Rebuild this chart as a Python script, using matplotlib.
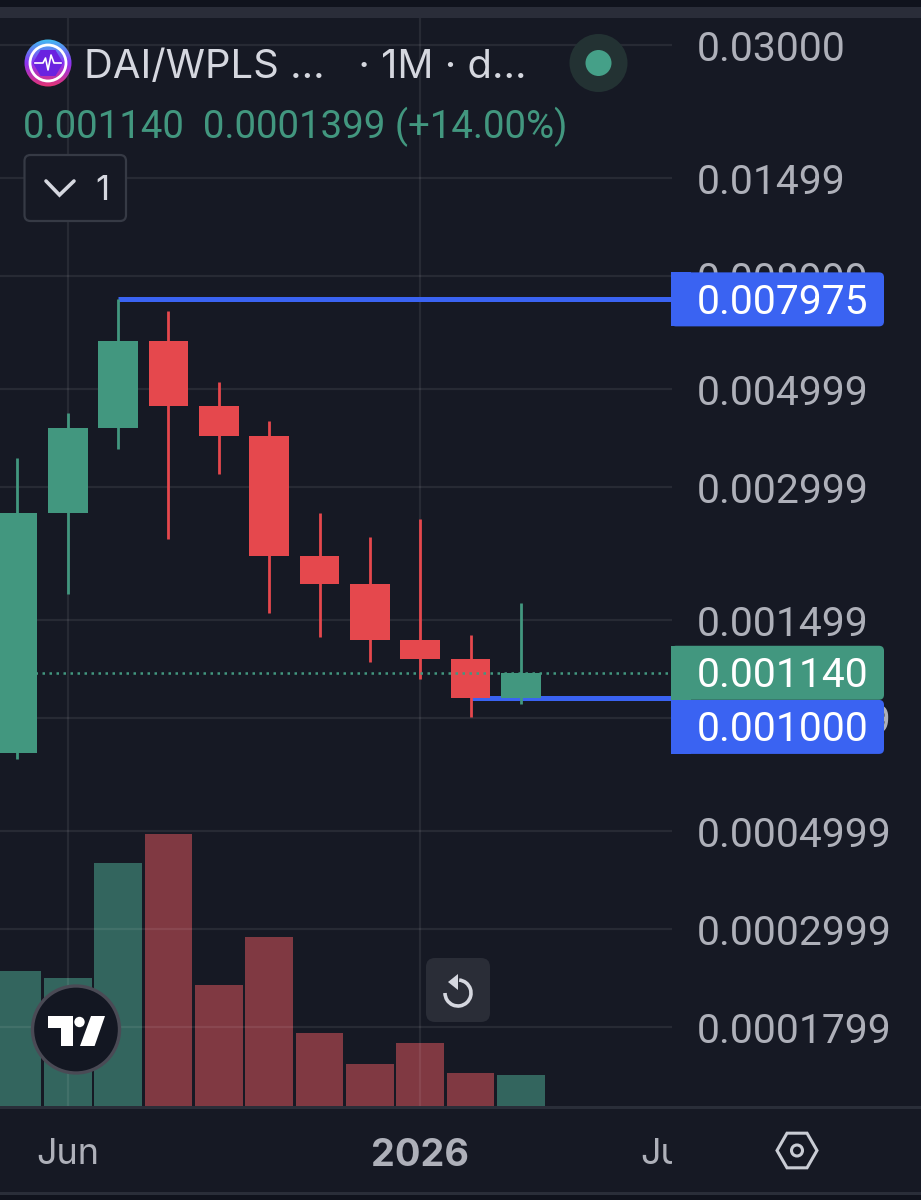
import numpy as np
import matplotlib
matplotlib.use("Agg")
import matplotlib.pyplot as plt
from matplotlib.patches import Rectangle, FancyBboxPatch, Circle, Polygon, Arc, RegularPolygon

# ---- data -----
months = [-8, -7, -6, -5, -4, -3, -2, -1, 0, 1, 2]   # months relative to Jan 2026
opens  = [0.00075, 0.00262, 0.00408, 0.00642, 0.004575, 0.003913, 0.002094, 0.00181, 0.001352, 0.001225, 0.0010001]
closes = [0.00262, 0.00408, 0.00642, 0.004575, 0.003913, 0.002094, 0.00181, 0.001352, 0.001225, 0.0010001, 0.00114]
highs  = [0.003489, 0.004413, 0.007975, 0.007503, 0.005183, 0.004233, 0.00262, 0.002312, 0.00254, 0.001388, 0.001639]
lows   = [0.000728, 0.001718, 0.003658, 0.002288, 0.003211, 0.001556, 0.001373, 0.001206, 0.001103, 0.000905, 0.000968]
volumes = [135, 128, 243, 272, 121, 169, 73, 42, 63, 33, 31]
price_ticks = [0.03, 0.01499, 0.008999, 0.004999, 0.002999, 0.001499, 0.0008999, 0.0004999, 0.0002999, 0.0001799]
price_tick_labels = ["0.03000", "0.01499", "0.008999", "0.004999", "0.002999", "0.001499",
                     "0.0008999", "0.0004999", "0.0002999", "0.0001799"]
time_ticks = [-7, 0, 5]
time_labels = ["Jun", "2026", "Jun"]
last_price = 0.00114
level_high = 0.007975
level_low = 0.001000

BG = "#161924"
GREEN = "#42977f"
RED = "#e5484d"
VGREEN = "#33655e"
VRED = "#803942"
BLUE = "#3a63f2"
LABEL = "#aeb0b9"
plt.rcParams["font.family"] = ["Inter", "DejaVu Sans"]
NUM = "Roboto"

W, H = 921, 1200
fig = plt.figure(figsize=(W / 100, H / 100), dpi=100, facecolor=BG)

top_px, bot_px, right_px = 18, 1107, 672
ax = fig.add_axes([0, 1 - bot_px / H, right_px / W, (bot_px - top_px) / H])
ax.patch.set_visible(False)
ax.set_yscale("log")
ax.set_ylim(0.0001187, 0.03454)
ax.set_xlim(-8.345, 4.96)
for s in ax.spines.values():
    s.set_visible(False)

# volume pane
vol = ax.twinx()
vol.set_ylim(-1, 1088)
vol.set_axis_off()
vol.bar(months, volumes, width=0.95,
        color=[VGREEN if c >= o else VRED for o, c in zip(opens, closes)], zorder=1)
ax.set_zorder(vol.get_zorder() + 1)

ax.yaxis.tick_right()
ax.set_yticks(price_ticks)
ax.set_yticklabels(price_tick_labels, va="center_baseline")
ax.minorticks_off()
ax.set_xticks(time_ticks)
ax.set_xticklabels(time_labels)
ax.tick_params(axis="y", length=0, pad=18, labelsize=29.4, labelcolor=LABEL, labelfontfamily=NUM)
ax.tick_params(axis="x", length=0, pad=22, labelsize=26, labelcolor=LABEL)
ax.get_xticklabels()[1].set_fontweight("bold")
ax.get_xticklabels()[1].set_fontsize(27.3)
ax.grid(True, color="white", alpha=0.075, lw=1.6, zorder=0)
ax.xaxis.get_major_ticks()[2].gridline.set_visible(False)
ax.set_axisbelow(True)

# level lines
ax.plot([months[2], ax.get_xlim()[1]], [level_high, level_high], color=BLUE, lw=3.6, zorder=2, solid_capstyle="butt")
ax.plot([months[9], ax.get_xlim()[1]], [level_low, level_low], color=BLUE, lw=3.6, zorder=2, solid_capstyle="butt")

# candles
for m, o, h, l, c in zip(months, opens, highs, lows, closes):
    col = GREEN if c >= o else RED
    ax.vlines(m, l, h, color=col, lw=2, zorder=3)
    ax.bar(m, abs(c - o), bottom=min(o, c), width=0.79, color=col, zorder=4)
ax.axhline(last_price, color=GREEN, lw=1.8, ls=(0, (1, 1.8)), zorder=5)

# ---- interface overlay in pixel coordinates ----
ui = fig.add_axes([0, 0, 1, 1], zorder=20)
ui.patch.set_visible(False)
ui.set_axis_off()


def py(price):
    return H - ax.transData.transform((0, price))[1]


def rrect(x0, y0, x1, y1, r, **kw):
    p = FancyBboxPatch((x0 + r, y0 + r), x1 - x0 - 2 * r, y1 - y0 - 2 * r,
                       boxstyle=f"round,pad={r},rounding_size={r}", **kw)
    ui.add_patch(p)
    return p


# top strips
ui.add_patch(Rectangle((0, 0), W, 7, fc="#10131d", ec="none"))
ui.add_patch(Rectangle((0, 7), W, 11, fc="#2a2d39", ec="none"))
# bottom rules
ui.add_patch(Rectangle((right_px, 1108), W - right_px, 84, fc=BG, ec="none"))
ui.add_patch(Rectangle((0, 1106), W, 3, fc="#2a2e39", ec="none"))
ui.add_patch(Rectangle((0, 1192), W, 3, fc="#2a2e39", ec="none"))
ui.add_patch(Rectangle((0, 1195), W, 5, fc="#10131d", ec="none"))


# price tags
def tag(price, color, dy=0):
    yc = py(price) + dy
    y0, y1 = yc - 27, yc + 27
    rrect(671, y0, 884, y1, 5, fc=color, ec="none", zorder=3)
    ui.add_patch(Rectangle((671, y0), 20, y1 - y0, fc=color, ec="none", zorder=3))
    ui.text(697, yc - 1, f"{price:.6f}", color="white", fontsize=29.4, family=NUM, va="center_baseline", ha="left", zorder=4)


tag(level_high, BLUE)
tag(level_low, BLUE, dy=29)
tag(last_price, GREEN)

# header
ui.text(84, 64, "DAI/WPLS ...   · 1M · d...", color="#d5d7df", fontsize=28.8, va="center_baseline", ha="left", zorder=4)
ui.text(23, 122, "0.001140  0.0001399 (+14.00%)", color=GREEN, fontsize=27.6, family=NUM, va="center_baseline", ha="left", zorder=4)

# pair icon
grad = np.linspace(0, 1, 64)[:, None]
cols = np.array([[0.25, 0.75, 0.95], [0.55, 0.2, 0.95], [0.9, 0.2, 0.45]])
img = np.stack([np.interp(grad[:, 0], [0, 0.5, 1], cols[:, i]) for i in range(3)], axis=1)[:, None, :]
im = ui.imshow(img, extent=(24, 72, 87, 39), aspect="auto", zorder=3)
im.set_clip_path(Circle((48, 63), 23.5, transform=ui.transData))
ui.add_patch(Circle((48, 63), 18, fc="none", ec="white", lw=2, zorder=4))
ui.add_patch(RegularPolygon((48, 63), 6, radius=15, orientation=np.pi / 6, fc="#6a22e0", ec="none", zorder=4))
ui.plot([35, 43, 45.5, 48, 51, 54, 61], [63, 63, 58, 70, 55, 63, 63], color="white", lw=1.2, zorder=5)

# status dot
ui.add_patch(Circle((598.5, 63), 29, fc="#233233", ec="none", zorder=3))
ui.add_patch(Circle((598.5, 63), 13, fc="#45a088", ec="none", zorder=4))

# collapse button
rrect(24.5, 155, 126, 221, 6, fc=BG, ec="#363a45", lw=1.6, zorder=3)
ui.plot([46, 59.5, 74], [181, 195, 181], color="#d5d7df", lw=2.6, zorder=4, solid_capstyle="round", solid_joinstyle="miter")
ui.text(102, 188, "1", color="#d5d7df", fontsize=25, ha="center", va="center_baseline", zorder=4)

# tradingview badge
ui.add_patch(Circle((76, 1029.5), 43.5, fc="#131722", ec="#4a4a55", lw=2.4, zorder=3))
ui.add_patch(Polygon([(47.5, 1016), (73, 1016), (73, 1046), (61, 1046), (61, 1028), (47.5, 1028)], fc="white", ec="none", zorder=4))
ui.add_patch(Circle((79.5, 1022), 5.2, fc="white", ec="none", zorder=4))
ui.add_patch(Polygon([(91, 1016), (105, 1016), (94.6, 1046), (80, 1046)], fc="white", ec="none", zorder=4))

# reset button
rrect(426, 958, 490, 1022, 9, fc="#2a2d37", ec="none", zorder=3)
ui.add_patch(Arc((458, 993), 26, 26, theta1=-85, theta2=180, angle=0, ec="#d5d7df", lw=2.6, zorder=4))
ui.add_patch(Polygon([(448, 982), (458, 974), (458, 990)], fc="#d5d7df", ec="none", zorder=4))

# settings icon
ui.add_patch(RegularPolygon((797, 1150.5), 6, radius=20, orientation=np.pi / 6, fc="none", ec="#c9ccd4", lw=2.2, zorder=4))
ui.add_patch(Circle((797, 1150.5), 5.5, fc="none", ec="#c9ccd4", lw=2.2, zorder=4))

ui.set_xlim(0, W)
ui.set_ylim(H, 0)

fig.savefig("out.png", dpi=100, facecolor=BG)
